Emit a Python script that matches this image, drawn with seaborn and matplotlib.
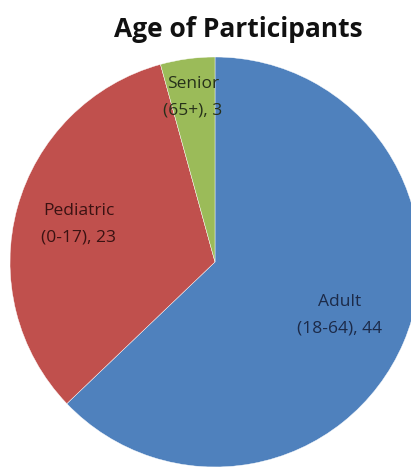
import numpy as np
import matplotlib
matplotlib.use("Agg")
import matplotlib.pyplot as plt
import seaborn as sns

categories = ["Adult", "Pediatric", "Senior"]
ranges = ["(18-64)", "(0-17)", "(65+)"]
values = [44, 23, 3]
colors = ["#4F81BD", "#C0504D", "#9BBB59"]
text_colors = ["#1c2a48", "#3a1212", "#26301a"]

sns.set_theme(style="white")
plt.rcParams['font.family'] = ['Open Sans', 'DejaVu Sans']

W, H = 411, 470
fig = plt.figure(figsize=(W / 100, H / 100), dpi=100)
ax = fig.add_axes([0, 0, 1, 1])

cx, cy, R = 215, H - 262, 205
wedges, _ = ax.pie(values, colors=colors, startangle=90, counterclock=False,
                   center=(cx, cy), radius=R,
                   wedgeprops=dict(edgecolor="white", linewidth=0.3),
                   frame=True)
ax.set_xlim(0, W)
ax.set_ylim(0, H)
ax.set_aspect("equal")
ax.axis("off")

dists = [0.66, 0.69, 0.81]
for w, cat, rg, v, d, tc in zip(wedges, categories, ranges, values, dists, text_colors):
    mid = np.deg2rad((w.theta1 + w.theta2) / 2)
    x = cx + d * R * np.cos(mid)
    y = cy + d * R * np.sin(mid)
    ax.text(x, y, f"{cat}\n{rg}, {v}", ha="center", va="center",
            fontsize=12.5, color=tc, linespacing=1.85)

fig.text(238 / W, 1 - 37 / H, "Age of Participants", ha="center", va="baseline",
         fontsize=19, fontweight="bold", color="#111111")

fig.savefig("out.png", dpi=100)
